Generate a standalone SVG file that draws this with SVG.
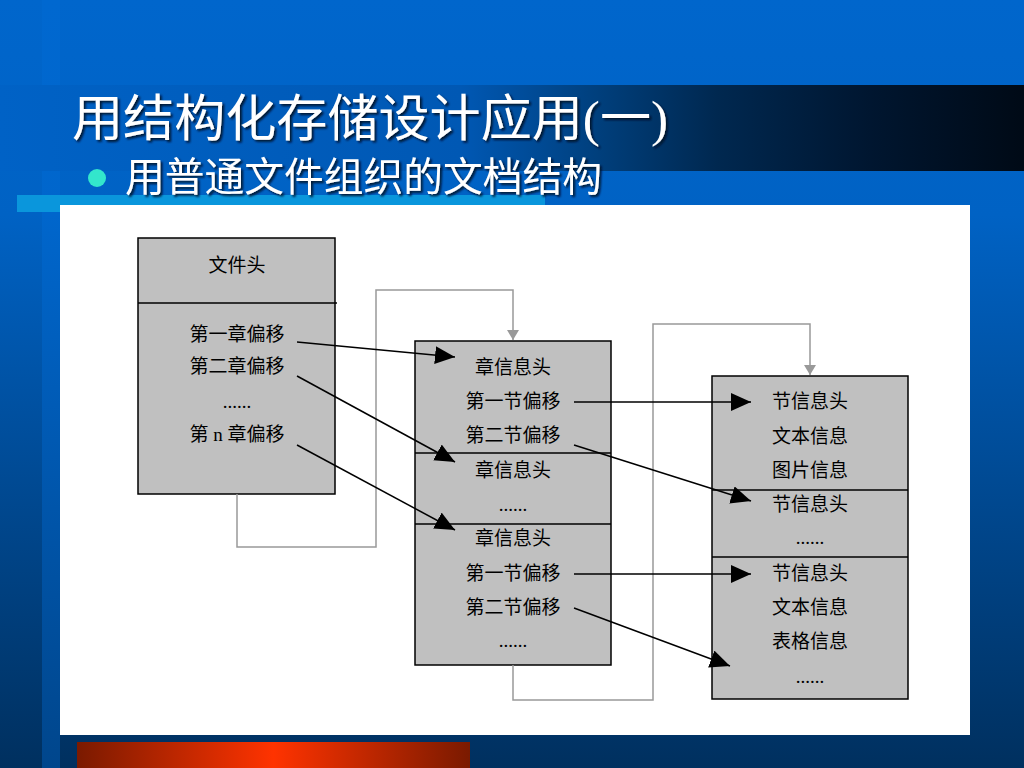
<svg xmlns="http://www.w3.org/2000/svg" width="1024" height="768" viewBox="0 0 1024 768">
<defs>
<linearGradient id="bg" x1="0" y1="0" x2="0" y2="1">
<stop offset="0" stop-color="#0066CC"/>
<stop offset="0.28" stop-color="#0062C4"/>
<stop offset="1" stop-color="#00305F"/>
</linearGradient>
<linearGradient id="strip" x1="0" y1="0" x2="0" y2="1">
<stop offset="0" stop-color="#0068D0"/>
<stop offset="0.28" stop-color="#0066CC"/>
<stop offset="1" stop-color="#00468C"/>
</linearGradient>
<linearGradient id="band" x1="0" y1="0" x2="1" y2="0">
<stop offset="0" stop-color="#0062C6"/>
<stop offset="0.45" stop-color="#0058B4"/>
<stop offset="0.58" stop-color="#00407E"/>
<stop offset="0.7" stop-color="#002850"/>
<stop offset="0.85" stop-color="#001630"/>
<stop offset="1" stop-color="#000A16"/>
</linearGradient>
<linearGradient id="red" x1="0" y1="0" x2="1" y2="0">
<stop offset="0" stop-color="#7A1A00"/>
<stop offset="0.5" stop-color="#FF3300"/>
<stop offset="1" stop-color="#7A1A00"/>
</linearGradient>
<filter id="shadow" x="-5%" y="-20%" width="110%" height="140%">
<feDropShadow dx="2" dy="2" stdDeviation="0.8" flood-color="#001020" flood-opacity="0.9"/>
</filter>
<marker id="ah" markerUnits="userSpaceOnUse" markerWidth="20" markerHeight="18" refX="20" refY="9" orient="auto">
<path d="M0,0 L20,9 L0,18 z" fill="#000"/>
</marker>
<marker id="gh" markerUnits="userSpaceOnUse" markerWidth="10" markerHeight="12" refX="10" refY="6" orient="auto">
<path d="M0,0 L10,6 L0,12 z" fill="#999"/>
</marker>
<style>
.box{fill:#C0C0C0;stroke:#000;stroke-width:1.5}
.div{stroke:#000;stroke-width:1.5}
.t{font-family:"Liberation Serif","Noto Sans CJK SC",serif;font-size:19px;fill:#000;text-anchor:middle}
.blk{fill:none;stroke:#000;stroke-width:1.5;marker-end:url(#ah)}
.gry{fill:none;stroke:#999;stroke-width:1.5}
.title{font-family:"Liberation Serif","Noto Sans CJK SC",serif;font-size:50px;fill:#fff}
.sub{font-family:"Noto Sans CJK SC","Liberation Sans",sans-serif;font-size:40px;fill:#fff}
</style>
</defs>
<rect width="1024" height="768" fill="url(#bg)"/>
<rect x="42" y="0" width="18" height="768" fill="url(#strip)"/>
<rect x="0" y="85" width="1024" height="86" fill="url(#band)"/>
<rect x="17" y="195" width="528" height="17" fill="#0A96DC"/>
<rect x="60" y="205" width="910" height="530" fill="#fff"/>
<rect x="77" y="742" width="393" height="26" fill="url(#red)"/>
<text class="title" x="72" y="136" textLength="596" lengthAdjust="spacingAndGlyphs" filter="url(#shadow)">用结构化存储设计应用(一)</text>
<circle cx="97" cy="178" r="9" fill="#33E6CC"/>
<text class="sub" x="125" y="191" textLength="477" lengthAdjust="spacingAndGlyphs" filter="url(#shadow)">用普通文件组织的文档结构</text>

<g id="node-file">
<rect class="box" x="138" y="238" width="197" height="256"/>
<line class="div" x1="138" y1="303" x2="337" y2="303"/>
<text class="t" x="237" y="272">文件头</text>
<text class="t" x="237" y="341">第一章偏移</text>
<text class="t" x="237" y="373">第二章偏移</text>
<text class="t" x="237" y="408">......</text>
<text class="t" x="237" y="441">第 n 章偏移</text>
</g>
<g id="node-chapters">
<rect class="box" x="415" y="341" width="196" height="324"/>
<line class="div" x1="415" y1="453" x2="611" y2="453"/>
<line class="div" x1="415" y1="524" x2="611" y2="524"/>
<text class="t" x="513" y="374">章信息头</text>
<text class="t" x="513" y="408">第一节偏移</text>
<text class="t" x="513" y="442">第二节偏移</text>
<text class="t" x="513" y="477">章信息头</text>
<text class="t" x="513" y="511">......</text>
<text class="t" x="513" y="545">章信息头</text>
<text class="t" x="513" y="580">第一节偏移</text>
<text class="t" x="513" y="614">第二节偏移</text>
<text class="t" x="513" y="647">......</text>
</g>
<g id="node-sections">
<rect class="box" x="712" y="376" width="196" height="323"/>
<line class="div" x1="712" y1="490" x2="908" y2="490"/>
<line class="div" x1="712" y1="557" x2="908" y2="557"/>
<text class="t" x="810" y="408">节信息头</text>
<text class="t" x="810" y="443">文本信息</text>
<text class="t" x="810" y="477">图片信息</text>
<text class="t" x="810" y="511">节信息头</text>
<text class="t" x="810" y="544">......</text>
<text class="t" x="810" y="580">节信息头</text>
<text class="t" x="810" y="614">文本信息</text>
<text class="t" x="810" y="648">表格信息</text>
<text class="t" x="810" y="683">......</text>
</g>
<g id="connectors">
<path class="gry" d="M237,494 V547 H376 V290 H513 V340" marker-end="url(#gh)"/>
<path class="gry" d="M513,665 V700 H653 V324 H810 V375" marker-end="url(#gh)"/>
<path class="blk" d="M297,342 L455,357"/>
<path class="blk" d="M297,376 L455,462"/>
<path class="blk" d="M297,445 L455,530"/>
<path class="blk" d="M574,402 L751,402"/>
<path class="blk" d="M574,445 L751,501"/>
<path class="blk" d="M574,574 L751,574"/>
<path class="blk" d="M574,608 L730,666"/>
</g>
</svg>
